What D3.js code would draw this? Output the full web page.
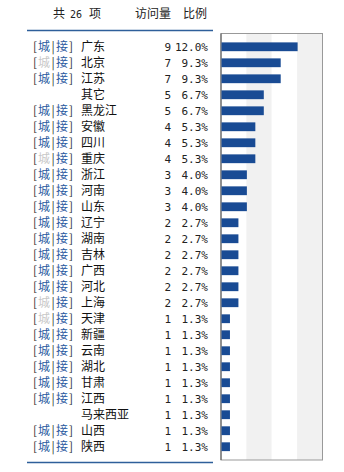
<!DOCTYPE html>
<html>
<head>
<meta charset="utf-8">
<script src="https://cdn.jsdelivr.net/npm/d3@7"></script>
<style>
  body { margin: 0; background: #fff; }
  text { font-family: "Noto Sans CJK SC", sans-serif; font-size: 12px; }
  .num { font-family: "DejaVu Sans Mono", monospace; font-size: 11px; fill: #222; }
</style>
</head>
<body>
<div id="container"></div>
<script>
// 地区
var regions = ["广东","北京","江苏","其它","黑龙江","安徽","四川","重庆","浙江","河南","山东","辽宁","湖南","吉林","广西","河北","上海","天津","新疆","云南","湖北","甘肃","江西","马来西亚","山西","陕西"];
// 访问量
var visits = [9,7,7,5,5,4,4,4,3,3,3,2,2,2,2,2,2,1,1,1,1,1,1,1,1,1];
// 比例标签
var ratios = ["12.0%","9.3%","9.3%","6.7%","6.7%","5.3%","5.3%","5.3%","4.0%","4.0%","4.0%","2.7%","2.7%","2.7%","2.7%","2.7%","2.7%","1.3%","1.3%","1.3%","1.3%","1.3%","1.3%","1.3%","1.3%","1.3%"];
// 没有 [城|接] 链接的项
var noLinks = ["其它","马来西亚"];
// "城" 显示为灰色的项
var grayCity = ["北京","重庆","上海","天津"];

var width = 344, height = 472;
var svg = d3.select("#container").append("svg")
    .attr("width", width).attr("height", height);

// 表头
svg.append("text").attr("x", 53).attr("y", 18).attr("fill", "#222").text("共");
svg.append("text").attr("x", 70).attr("y", 18).attr("fill", "#222")
    .style("font-family", "DejaVu Sans Mono").style("font-size", "10px").text("26");
svg.append("text").attr("x", 89).attr("y", 18).attr("fill", "#222").text("项");
svg.append("text").attr("x", 135).attr("y", 18).attr("fill", "#222").text("访问量");
svg.append("text").attr("x", 183).attr("y", 18).attr("fill", "#222").text("比例");

svg.append("line").attr("x1", 27).attr("x2", 213).attr("y1", 30.5).attr("y2", 30.5)
    .attr("stroke", "#2e5f9a").attr("stroke-width", 1.5);
svg.append("line").attr("x1", 27).attr("x2", 213).attr("y1", 462.5).attr("y2", 462.5)
    .attr("stroke", "#2e5f9a").attr("stroke-width", 1.5);

// 比例尺
var chart = {left: 221, right: 322.5, top: 33.5, bottom: 460};
var x = d3.scaleLinear().domain([0, 12]).range([chart.left, chart.right]);
var y = d3.scaleBand().domain(regions).range([chart.top, chart.bottom])
    .paddingInner(0.45).paddingOuter(0.555);

// 背景条纹
var stripes = d3.range(0, 12, 3);
svg.selectAll(".stripe").data(stripes).enter().append("rect")
    .attr("x", d => x(d)).attr("y", chart.top)
    .attr("width", d => x(d + 3) - x(d)).attr("height", chart.bottom - chart.top)
    .attr("fill", (d, i) => i % 2 ? "#f1f1f1" : "#fff");

// 边框
svg.append("rect").attr("x", chart.left).attr("y", chart.top)
    .attr("width", chart.right - chart.left).attr("height", chart.bottom - chart.top)
    .attr("fill", "none").attr("stroke", "#999");
svg.append("line").attr("x1", chart.left).attr("x2", chart.left)
    .attr("y1", chart.top).attr("y2", chart.bottom).attr("stroke", "#555");

// 柱子
svg.selectAll(".bar").data(regions).enter().append("rect")
    .attr("class", "bar")
    .attr("x", chart.left + 0.5)
    .attr("y", d => y(d))
    .attr("width", (d, i) => x(visits[i]) - chart.left)
    .attr("height", y.bandwidth())
    .attr("fill", "#194b94");

// 行文字
var rows = svg.selectAll(".row").data(regions).enter().append("g")
    .attr("class", "row")
    .attr("transform", d => `translate(0,${y(d) + y.bandwidth() / 2 + 4.5})`);

var links = rows.filter(d => noLinks.indexOf(d) < 0).append("text");
links.append("tspan").attr("x", 33).attr("fill", "#333").text("[");
links.append("tspan").attr("x", 38).attr("fill", d => grayCity.indexOf(d) >= 0 ? "#c8c8c8" : "#2a5aa0").text("城");
links.append("tspan").attr("x", 51.5).attr("fill", "#333").text("|");
links.append("tspan").attr("x", 56).attr("fill", "#2a5aa0").text("接");
links.append("tspan").attr("x", 69).attr("fill", "#333").text("]");

rows.append("text").attr("x", 81).attr("fill", "#111").text(d => d);

rows.append("text").attr("class", "num").attr("x", 171).attr("text-anchor", "end")
    .text((d, i) => visits[i]);
rows.append("text").attr("class", "num").attr("x", 208).attr("text-anchor", "end")
    .text((d, i) => ratios[i]);
</script>
</body>
</html>
